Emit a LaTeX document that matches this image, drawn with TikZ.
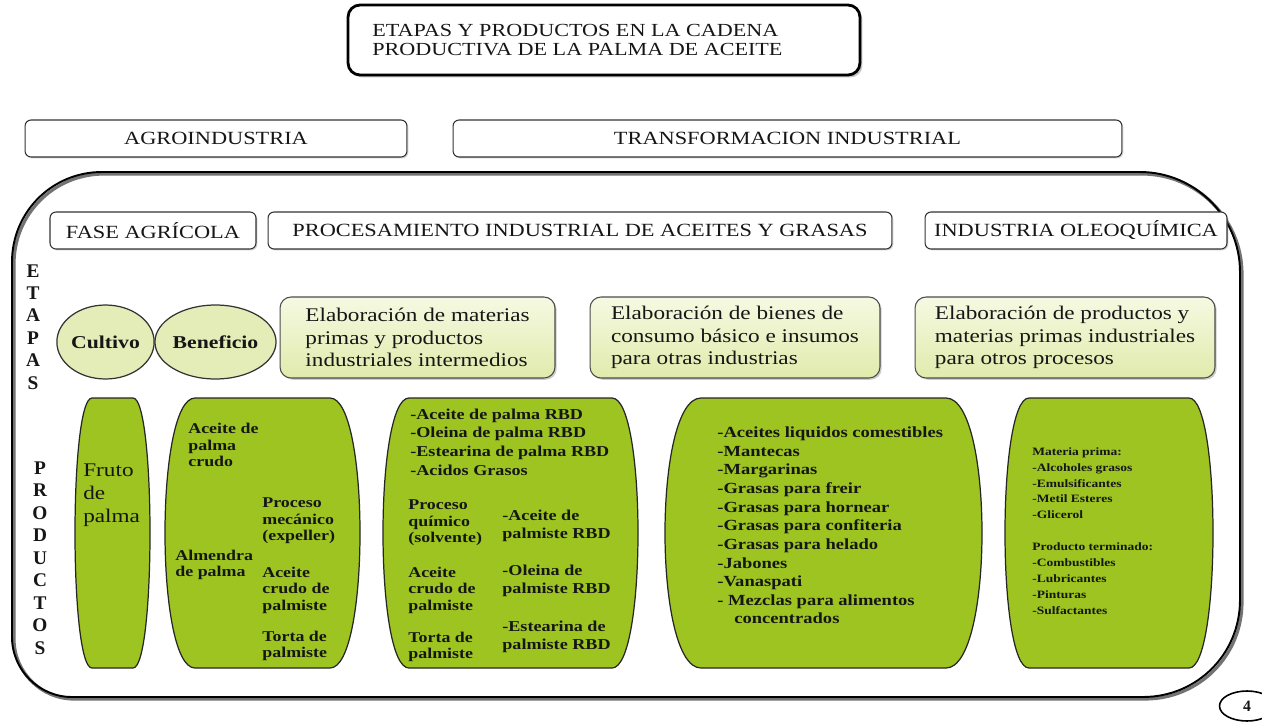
\documentclass[tikz,border=0pt]{standalone}
\usepackage{fontspec}
\setmainfont{Liberation Serif}
\newfontfamily\wf[FakeStretch=1.2]{Liberation Serif}
\usetikzlibrary{shapes.geometric,shadows}
\definecolor{prodg}{RGB}{157,196,33}
\definecolor{etapg}{RGB}{224,235,172}
\definecolor{etapl}{RGB}{246,249,226}
\definecolor{ellg}{RGB}{228,236,184}
\definecolor{ink}{RGB}{22,22,22}
\newcommand\prodbarrel[5]{\draw[prodshape] ({#1+#5},#3) -- ({#2-#5},#3) .. controls ({#2+#5/3},#3) and ({#2+#5/3},#4) .. ({#2-#5},#4) -- ({#1+#5},#4) .. controls ({#1-#5/3},#4) and ({#1-#5/3},#3) .. cycle;}
\newcommand\contpath{(12,262) .. controls (12,212) and (52,172) .. (102,172) -- (1140,172) .. controls (1195,172) and (1240,217) .. (1240,272) -- (1240,600) .. controls (1240,654) and (1197,697) .. (1143,697) -- (72,697) .. controls (39,697) and (12,670) .. (12,637) -- cycle}
\begin{document}
\begin{tikzpicture}[x=0.02cm,y=-0.02cm,
  every node/.style={text=ink, inner sep=0pt},
  headbox/.style={draw=black!80, line width=0.6pt, rounded corners=0.12cm, fill=white,
    font=\wf\fontsize{10.6}{12}\selectfont, minimum height=0.74cm,
    drop shadow={shadow xshift=0.8pt, shadow yshift=-0.8pt, opacity=0.35}},
  titlebox/.style={draw=black, line width=1.6pt, rounded corners=0.24cm, fill=white,
    drop shadow={shadow xshift=1.4pt, shadow yshift=-1.4pt, opacity=0.45}},
  etapbox/.style={draw=black!70, line width=0.6pt, rounded corners=0.22cm,
    top color=etapl, bottom color=etapg, minimum height=1.62cm, align=left,
    font=\wf\fontsize{11}{12.75}\selectfont,
    drop shadow={shadow xshift=1pt, shadow yshift=-1pt, opacity=0.4}},
  ellnode/.style={ellipse, draw=black!80, line width=0.7pt, fill=ellg, minimum height=1.48cm,
    font=\wf\bfseries\fontsize{10.3}{12}\selectfont},
  prodshape/.style={draw=black!85, line width=0.7pt, fill=prodg},
  vlet/.style={align=center, font=\bfseries\fontsize{11}{12.8}\selectfont},
  ptxt/.style={anchor=west, align=left, font=\wf\bfseries\fontsize{8.5}{9.35}\selectfont},
  ptxtb/.style={anchor=west, align=left, font=\wf\bfseries\fontsize{8.6}{10.4}\selectfont}]
\useasboundingbox (0,0) rectangle (1262,724);
\fill[white] (0,0) rectangle (1262,724);

% container
\draw[black!55, line width=1.8pt, shift={(2,2)}] \contpath;
\draw[black, line width=1.1pt] \contpath;

% title
\node[titlebox, minimum width=10.24cm, minimum height=1.4cm] (title) at (604,40) {};
\node[anchor=west, align=left, font=\wf\fontsize{10.5}{11.3}\selectfont] (titletxt) at (372,40)
  {ETAPAS Y PRODUCTOS EN LA CADENA\\PRODUCTIVA DE LA PALMA DE ACEITE};

% headings
\node[headbox, minimum width=7.64cm] (agro) at (216,138.5) {AGROINDUSTRIA};
\node[headbox, minimum width=13.38cm] (trans) at (787.5,138.5) {TRANSFORMACION INDUSTRIAL};
\node[headbox, minimum width=4.12cm] (fase) at (153,230.5) {FASE AGRÍCOLA};
\node[headbox, minimum width=12.48cm] (proc) at (580,230.5) {PROCESAMIENTO INDUSTRIAL DE ACEITES Y GRASAS};
\node[headbox, minimum width=6.04cm] (oleo) at (1076,230.5) {INDUSTRIA OLEOQUÍMICA};

% vertical labels
\node[vlet] (etapas) at (33,327) {E\\T\\A\\P\\A\\S};
\node[vlet] (productos) at (40,558) {P\\R\\O\\D\\U\\C\\T\\O\\S};

% etapas
\node[ellnode, minimum width=1.86cm] (cultivo) at (105.5,342) {Cultivo};
\node[ellnode, minimum width=2.1cm] (beneficio) at (215.5,342) {Beneficio};
\node[etapbox, minimum width=5.5cm] (e1) at (417.5,337.5) {Elaboración de materias\\primas y productos\\industriales intermedios};
\node[etapbox, minimum width=5.8cm] (e2) at (735,337.5) {Elaboración de bienes de\\consumo básico e insumos\\para otras industrias};
\node[etapbox, minimum width=6cm] (e3) at (1065,337.5) {Elaboración de productos y\\materias primas industriales\\para otros procesos};

% productos shapes
\prodbarrel{75}{150}{398}{668}{17}
\prodbarrel{165}{360}{398}{668}{30}
\prodbarrel{383}{638}{398}{668}{26}
\prodbarrel{665}{982}{398}{668}{36}
\prodbarrel{1005}{1213}{398}{668}{24}

% shape 1
\node[anchor=west, align=left, font=\wf\fontsize{11}{13}\selectfont] (fruto) at (83,495) {Fruto\\de\\palma};
% shape 2
\node[ptxt] (s2a) at (188,445) {Aceite de\\palma\\crudo};
\node[ptxt] (s2b) at (175,565) {Almendra\\de palma};
\node[ptxt] (s2c) at (262,521) {Proceso\\mecánico\\(expeller)};
\node[ptxt] (s2d) at (262,590) {Aceite\\crudo de\\palmiste};
\node[ptxt] (s2e) at (262,646) {Torta de\\palmiste};
% shape 3
\node[anchor=west, align=left, font=\wf\bfseries\fontsize{8.6}{10.6}\selectfont] (s3a) at (410,442)
  {-Aceite de palma RBD\\-Oleina de palma RBD\\-Estearina de palma RBD\\-Acidos Grasos};
\node[ptxt] (s3b) at (408,523) {Proceso\\químico\\(solvente)};
\node[ptxtb] (s3c) at (502,526) {-Aceite de\\palmiste RBD};
\node[ptxt] (s3d) at (408,590) {Aceite\\crudo de\\palmiste};
\node[ptxtb] (s3e) at (502,581) {-Oleina de\\palmiste RBD};
\node[ptxtb] (s3f) at (502,637) {-Estearina de\\palmiste RBD};
\node[ptxt] (s3g) at (408,647) {Torta de\\palmiste};
% shape 4
\node[anchor=west, align=left, font=\wf\bfseries\fontsize{8.8}{10.6}\selectfont] (s4) at (717,525.5)
  {-Aceites liquidos comestibles\\-Mantecas\\-Margarinas\\-Grasas para freir\\-Grasas para hornear\\-Grasas para confiteria\\-Grasas para helado\\-Jabones\\-Vanaspati\\- Mezclas para alimentos\\\hspace*{1.1em}concentrados};
% shape 5
\node[anchor=west, align=left, font=\wf\bfseries\fontsize{6.4}{9.07}\selectfont] (s5) at (1032,531)
  {Materia prima:\\-Alcoholes grasos\\-Emulsificantes\\-Metil Esteres\\-Glicerol\\[9.07pt]Producto terminado:\\-Combustibles\\-Lubricantes\\-Pinturas\\-Sulfactantes};

% page number
\node[ellipse, draw=black, line width=0.9pt, minimum width=1.1cm, minimum height=0.6cm,
  font=\bfseries\fontsize{9}{10}\selectfont] (pg) at (1247,706) {4};
\end{tikzpicture}
\end{document}
